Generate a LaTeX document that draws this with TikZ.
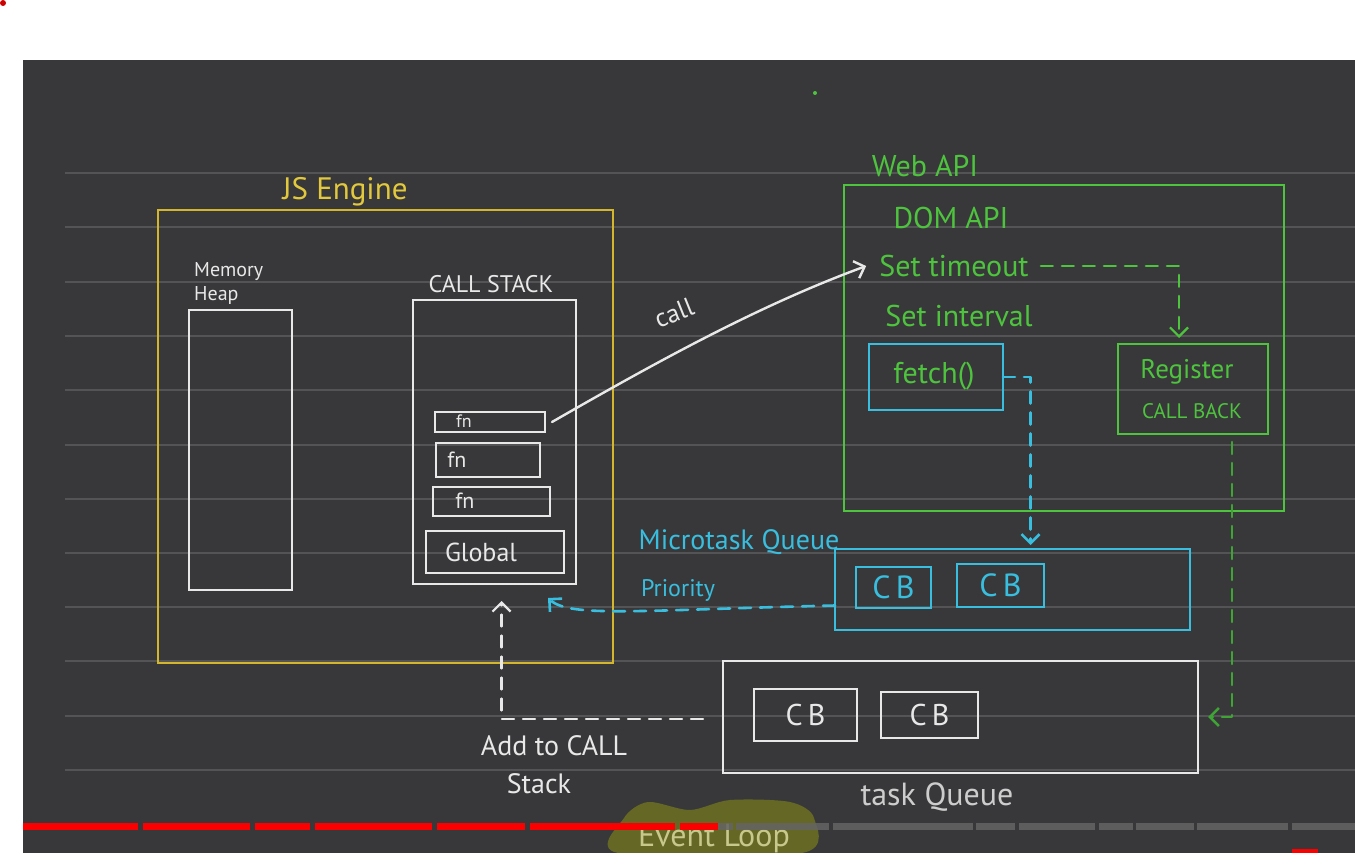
\documentclass[tikz,border=0pt]{standalone}
\usepackage{fontspec}
\setmainfont{PT Sans}
\usetikzlibrary{arrows.meta}
\definecolor{board}{RGB}{56,56,58}
\definecolor{rulec}{RGB}{84,84,87}
\definecolor{jsy}{RGB}{212,182,44}
\definecolor{jsyt}{RGB}{226,200,60}
\definecolor{wg}{RGB}{78,196,62}
\definecolor{wgd}{RGB}{62,165,52}
\definecolor{cy}{RGB}{56,190,222}
\definecolor{wh}{RGB}{232,232,232}
\definecolor{gr}{RGB}{205,205,205}
\definecolor{blob}{RGB}{100,104,36}
\definecolor{blobt}{RGB}{200,200,140}
\definecolor{ytred}{RGB}{250,0,0}
\definecolor{ytgrey}{RGB}{100,100,100}
\begin{document}
\begin{tikzpicture}[x=1pt,y=-1pt,
 box/.style={draw=#1, line width=2.6pt, inner sep=0pt, outer sep=0pt, anchor=north west},
 txt/.style={text=#1, inner sep=0pt, align=center},
 conn/.style={draw=#1, line width=2.6pt, line cap=round, line join=round,
   dash pattern=on 12pt off 9pt, -{Straight Barb[length=9pt,width=18pt]}},
]
\clip (0,0) rectangle (1355,853);
\fill[white] (0,0) rectangle (1355,853);
\fill[board] (23,60) rectangle (1355,853);
\foreach \y in {173,227,282,336,390,445,499,553,607,661,716,770}
  \draw[rulec, line width=1.2pt] (65,\y) -- (1355,\y);
\fill[red!80!black] (3,3) circle (3);
\fill[wg] (815,93) circle (2);

% JS engine
\node[box=jsy, minimum width=455pt, minimum height=453pt] (js) at (158,210) {};
\node[txt=jsyt, font=\fontsize{31}{34}\selectfont] (jsl) at (345,192) {JS Engine};
\node[box=wh, minimum width=103pt, minimum height=280pt] (heap) at (189,310) {};
\node[txt=wh, font=\fontsize{20}{24}\selectfont, align=left, anchor=west] (heapl) at (194,283) {Memory\\Heap};
\node[box=wh, minimum width=163pt, minimum height=284pt] (cs) at (413,300) {};
\node[txt=wh, font=\fontsize{24}{28}\selectfont] (csl) at (491,284) {CALL STACK};
\node[box=wh, minimum width=110pt, minimum height=20pt] (fn1) at (435,412) {};
\node[txt=wh, font=\fontsize{18}{20}\selectfont] (fn1l) at (464,421) {fn};
\node[box=wh, minimum width=104pt, minimum height=34pt] (fn2) at (436,443) {};
\node[txt=wh, font=\fontsize{22}{24}\selectfont] (fn2l) at (457,460) {fn};
\node[box=wh, minimum width=117pt, minimum height=29pt] (fn3) at (433,487) {};
\node[txt=wh, font=\fontsize{22}{24}\selectfont] (fn3l) at (465,501) {fn};
\node[box=wh, minimum width=138pt, minimum height=42pt] (glob) at (426,531) {};
\node[txt=wh, font=\fontsize{26}{28}\selectfont] (globl) at (481,552) {Global};

% Web API
\node[box=wg, minimum width=440pt, minimum height=326pt] (web) at (844,185) {};
\node[txt=wg, font=\fontsize{30}{34}\selectfont] (webl) at (925,166) {Web API};
\node[txt=wg, font=\fontsize{30}{34}\selectfont] (dom) at (951,218) {DOM API};
\node[txt=wg, font=\fontsize{30}{34}\selectfont] (st) at (954,266) {Set timeout};
\node[txt=wg, font=\fontsize{30}{34}\selectfont] (si) at (959,316) {Set interval};
\node[box=cy, minimum width=134pt, minimum height=66pt] (fetch) at (869,344) {};
\node[txt=wg, font=\fontsize{30}{34}\selectfont] (fetchl) at (934,376) {fetch()};
\node[box=wg, minimum width=150pt, minimum height=90pt] (reg) at (1118,344) {};
\node[txt=wg, font=\fontsize{27}{30}\selectfont] (regl) at (1187,372) {Register};
\node[txt=wg, font=\fontsize{21}{24}\selectfont] (cbl) at (1192,411) {CALL BACK};

% Microtask queue
\node[box=cy, minimum width=355pt, minimum height=81pt] (mq) at (835,549) {};
\node[txt=cy, font=\fontsize{28}{32}\selectfont] (mql) at (739,542) {Microtask Queue};
\node[txt=cy, font=\fontsize{24}{28}\selectfont] (prio) at (678,590) {Priority};
\node[box=cy, minimum width=75pt, minimum height=41pt] (mcb1) at (856,567) {};
\node[txt=cy, font=\fontsize{32}{34}\selectfont] at (mcb1.center) {C\,B};
\node[box=cy, minimum width=87pt, minimum height=43pt] (mcb2) at (957,564) {};
\node[txt=cy, font=\fontsize{32}{34}\selectfont] at (mcb2.center) {C\,B};

% Task queue
\node[box=wh, minimum width=475pt, minimum height=112pt] (tq) at (723,661) {};
\node[txt=gr, font=\fontsize{32}{36}\selectfont] (tql) at (937,797) {task Queue};
\node[box=wh, minimum width=103pt, minimum height=52pt] (tcb1) at (754,689) {};
\node[txt=wh, font=\fontsize{30}{32}\selectfont] at (tcb1.center) {C\,B};
\node[box=wh, minimum width=97pt, minimum height=46pt] (tcb2) at (881,692) {};
\node[txt=wh, font=\fontsize{30}{32}\selectfont] at (tcb2.center) {C\,B};
\node[txt=wh, font=\fontsize{28}{32}\selectfont] (add1) at (554,746) {Add to CALL};
\node[txt=wh, font=\fontsize{28}{32}\selectfont] (add2) at (539,784) {Stack};

% connectors
\draw[wh, line width=2.4pt, line cap=round, -{Straight Barb[length=9pt,width=18pt]}]
  ([xshift=7pt]fn1.east) .. controls (660,360) and (760,305) .. ([xshift=-13pt]st.west);
\node[txt=wh, font=\fontsize{26}{30}\selectfont, rotate=22] (calll) at (674,313) {call};
\draw[conn=wg, line width=2.2pt] ([xshift=12pt]st.east) -| ([xshift=-14pt,yshift=6pt]reg.north);
\draw[conn=cy] (fetch.east) -| ([xshift=18pt,yshift=4pt]mq.north);
\draw[conn=wgd] ([xshift=39pt,yshift=-8pt]reg.south) |- ([xshift=10pt]tq.east);
\draw[conn=cy] ([yshift=-16pt]mq.west) .. controls (640,610) and (570,618) .. ([xshift=-28pt,yshift=-14pt]cs.south east);
\draw[conn=wh, line width=2.2pt] ([xshift=-20pt,yshift=-2pt]tq.west) -| ([xshift=7pt,yshift=-17pt]cs.south);

% event loop blob and progress bar
\fill[blob] plot[smooth cycle] coordinates {(618,853) (624,818) (648,802) (690,810) (730,800) (790,802) (814,818) (802,853)};
\node[txt=blobt, font=\fontsize{32}{36}\selectfont] (ev) at (714,838) {Event Loop};
\foreach \a/\b in {23/138,143/250,255/310,315/432,437/525,530/675,680/718}
  \fill[ytred] (\a,823) rectangle (\b,830);
\foreach \a/\b in {718/733,736/829,833/973,976/1015,1019/1095,1099/1133,1136/1194,1197/1288,1292/1355}
  \fill[ytgrey, opacity=0.85] (\a,823) rectangle (\b,830);
\fill[ytred] (1292,849) rectangle (1318,853);
\end{tikzpicture}
\end{document}
